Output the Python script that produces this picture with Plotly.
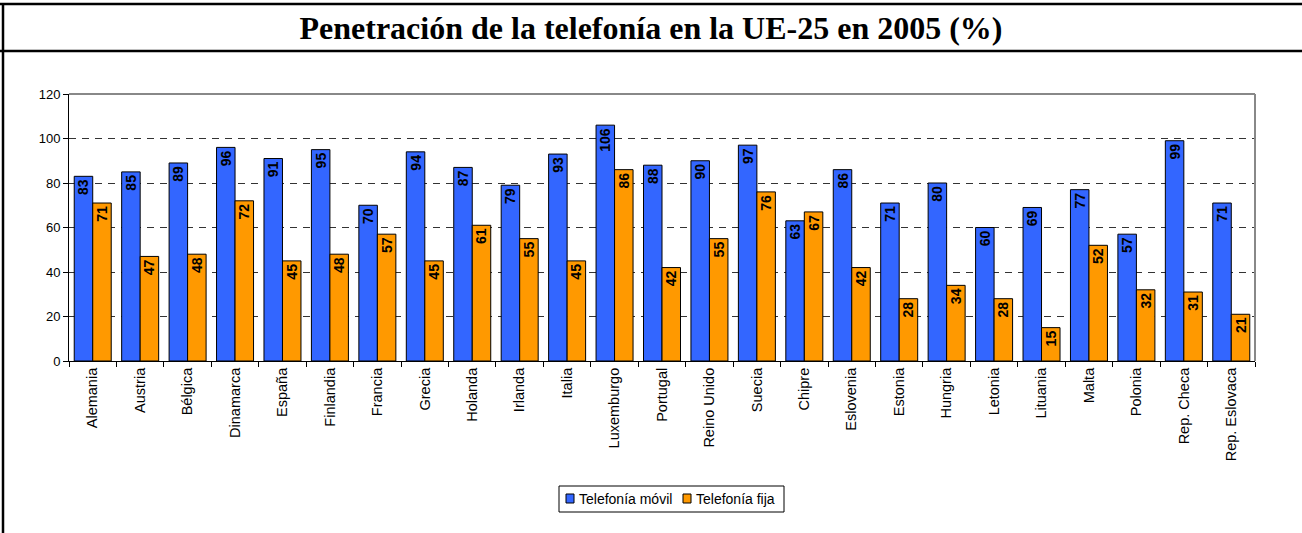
import plotly.graph_objects as go

paises = ["Alemania", "Austria", "Bélgica", "Dinamarca", "España", "Finlandia",
          "Francia", "Grecia", "Holanda", "Irlanda", "Italia", "Luxemburgo",
          "Portugal", "Reino Unido", "Suecia", "Chipre", "Eslovenia", "Estonia",
          "Hungria", "Letonia", "Lituania", "Malta", "Polonia", "Rep. Checa",
          "Rep. Eslovaca"]
movil = [83, 85, 89, 96, 91, 95, 70, 94, 87, 79, 93, 106, 88, 90, 97, 63, 86,
         71, 80, 60, 69, 77, 57, 99, 71]
fija = [71, 47, 48, 72, 45, 48, 57, 45, 61, 55, 45, 86, 42, 55, 76, 67, 42,
        28, 34, 28, 15, 52, 32, 31, 21]
series = [("Telefonía móvil", movil, "#3366FF"),
          ("Telefonía fija", fija, "#FF9900")]

FONT = "Liberation Sans, Arial, sans-serif"
W, H = 1302, 533
L, R, T, B = 69, 1255, 94, 361  # plot area in pixels


def px_x(v):
    return (v - L) / (R - L)


def px_y(v):
    return (B - v) / (B - T)


fig = go.Figure()
for name, vals, col in series:
    fig.add_trace(go.Bar(
        x=paises, y=vals, name=name, marker_color=col,
        marker_line=dict(color="black", width=1),
        text=[str(v) for v in vals], textposition="inside",
        insidetextanchor="end", textangle=-90, constraintext="none",
        textfont=dict(family=FONT, size=14, color="black", weight="bold"),
    ))

fig.update_layout(
    width=W, height=H, plot_bgcolor="white", paper_bgcolor="white",
    margin=dict(l=L, r=W - R, t=T, b=H - B),
    barmode="group", bargap=0.22, bargroupgap=0,
    font=dict(family=FONT, size=11, color="black"),
    showlegend=False,
    title=dict(text="<b>Penetración de la telefonía en la UE-25 en 2005 (%)</b>",
               x=0.5, xref="container", xanchor="center", y=1 - 28 / H, yanchor="middle",
               font=dict(family="Liberation Serif, Times New Roman, serif", size=32)),
)

fig.update_yaxes(range=[0, 120], dtick=20, showline=True, linecolor="black",
                 linewidth=1, ticks="outside", ticklen=5, tickcolor="black",
                 showgrid=True, gridcolor="#333333", griddash="7px,6px", gridwidth=1,
                 zeroline=False, tickfont=dict(size=13))
fig.update_xaxes(showline=True, linecolor="black", linewidth=1, ticks="outside",
                 ticklen=5, tickcolor="black", tickson="boundaries",
                 tickangle=-90, tickfont=dict(size=14.5))

# gray frame on top and right of plot area
fig.add_shape(type="line", xref="paper", yref="paper", x0=0, x1=1, y0=1, y1=1,
              line=dict(color="#888888", width=2))
fig.add_shape(type="line", xref="paper", yref="paper", x0=1, x1=1, y0=0, y1=1,
              line=dict(color="#888888", width=2))
# outer frame lines
fig.add_shape(type="line", xref="paper", yref="paper", x0=px_x(0), x1=px_x(W),
              y0=px_y(4), y1=px_y(4), line=dict(color="black", width=2.5))
fig.add_shape(type="line", xref="paper", yref="paper", x0=px_x(0), x1=px_x(W),
              y0=px_y(51), y1=px_y(51), line=dict(color="black", width=2.5))
fig.add_shape(type="line", xref="paper", yref="paper", x0=px_x(3), x1=px_x(3),
              y0=px_y(4), y1=px_y(H), line=dict(color="black", width=2.5))

# legend box drawn by hand (Excel style)
fig.add_shape(type="rect", xref="paper", yref="paper",
              x0=px_x(559), x1=px_x(784), y0=px_y(512), y1=px_y(486),
              line=dict(color="black", width=1), fillcolor="white")
for (name, _, col), sx in zip(series, [566, 683]):
    fig.add_shape(type="rect", xref="paper", yref="paper",
                  x0=px_x(sx), x1=px_x(sx + 8), y0=px_y(503), y1=px_y(494),
                  line=dict(color="black", width=1), fillcolor=col)
    fig.add_annotation(text=name, xref="paper", yref="paper", x=px_x(sx + 11),
                       y=px_y(498.5), xanchor="left", yanchor="middle",
                       showarrow=False, font=dict(size=14, family=FONT))

fig.write_html("out.html", config={"displayModeBar": False},
               post_script="document.body.style.margin='0';")
